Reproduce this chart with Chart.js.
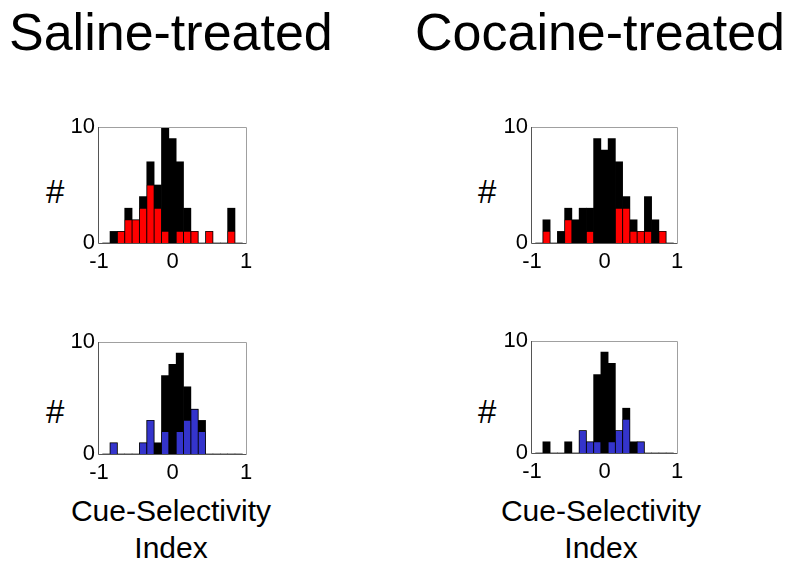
<!DOCTYPE html>
<html>
<head>
<meta charset="utf-8">
<script src="https://cdn.jsdelivr.net/npm/chart.js@4.4.0/dist/chart.umd.min.js"></script>
<style>
  body { margin: 0; background: #fff; }
  #wrap { position: relative; width: 800px; height: 570px; overflow: hidden; background: #fff;
          font-family: "Liberation Sans", Arial, sans-serif; color: #000; }
  .txt { position: absolute; white-space: nowrap; line-height: 1; }
  .title { font-size: 52px; }
  .hash { font-size: 33px; }
  .xlab { font-size: 30px; width: 300px; text-align: center; line-height: 37px; }
  canvas { position: absolute; }
</style>
</head>
<body>
<div id="wrap">
  <div class="txt title" style="left:9px; top:6px;">Saline-treated</div>
  <div class="txt title" style="left:415px; top:6px;">Cocaine-treated</div>

  <div class="txt hash" style="left:46px; top:175px;">#</div>
  <div class="txt hash" style="left:478px; top:175px;">#</div>
  <div class="txt hash" style="left:46px; top:395px;">#</div>
  <div class="txt hash" style="left:478px; top:395px;">#</div>

  <div class="txt xlab" style="left:21px; top:492px;">Cue-Selectivity<br>Index</div>
  <div class="txt xlab" style="left:451px; top:492px;">Cue-Selectivity<br>Index</div>

  <canvas id="salineTop"></canvas>
  <canvas id="cocaineTop"></canvas>
  <canvas id="salineBottom"></canvas>
  <canvas id="cocaineBottom"></canvas>
</div>

<script>
// histogram bin centres (cue-selectivity index)
var bins = [-0.9, -0.8, -0.7, -0.6, -0.5, -0.4, -0.3, -0.2, -0.1, 0,
            0.1, 0.2, 0.3, 0.4, 0.5, 0.6, 0.7, 0.8, 0.9];
var xTicks = [-1, 0, 1];
var yTicks = [0, 10];

// counts per bin
var salineTopAll     = [0, 1, 1, 3, 2, 4, 7, 5, 10, 9, 7, 3, 1, 0, 1, 0, 0, 3, 0];
var salineTopRed     = [0, 0, 1, 2, 2, 3, 5, 3, 1, 0, 1, 1, 1, 0, 1, 0, 0, 1, 0];
var cocaineTopAll    = [0, 2, 0, 1, 3, 2, 3, 3, 9, 8, 9, 7, 4, 2, 1, 4, 2, 1, 0];
var cocaineTopRed    = [0, 1, 0, 0, 2, 0, 0, 1, 0, 0, 0, 3, 3, 1, 1, 1, 0, 1, 0];
var salineBottomAll  = [0, 1, 0, 0, 0, 1, 3, 1, 7, 8, 9, 6, 4, 3, 0, 0, 0, 0, 0];
var salineBottomBlue = [0, 1, 0, 0, 0, 1, 3, 0, 2, 0, 2, 3, 4, 2, 0, 0, 0, 0, 0];
var cocaineBottomAll = [0, 1, 0, 0, 1, 0, 2, 1, 7, 9, 8, 2, 4, 1, 1, 0, 0, 0, 0];
var cocaineBottomBlue= [0, 0, 0, 0, 0, 0, 2, 1, 1, 0, 1, 2, 3, 0, 1, 0, 0, 0, 0];

var RED = '#ff0000';
var BLUE = '#3434cc';

// box around the plot area, like matlab's axes box
var boxPlugin = {
    id: 'box',
    afterDraw: function (chart) {
        var a = chart.chartArea, ctx = chart.ctx;
        ctx.save();
        ctx.lineWidth = 1;
        ctx.strokeStyle = '#a0a0a0';
        ctx.beginPath();
        ctx.moveTo(a.left, a.top + 0.5);
        ctx.lineTo(a.right + 0.5, a.top + 0.5);
        ctx.lineTo(a.right + 0.5, a.bottom);
        ctx.stroke();
        ctx.strokeStyle = '#555';
        ctx.beginPath();
        ctx.moveTo(a.left - 0.5, a.top);
        ctx.lineTo(a.left - 0.5, a.bottom + 0.5);
        ctx.lineTo(a.right + 0.5, a.bottom + 0.5);
        ctx.stroke();
        ctx.restore();
    }
};

function toPoints(values) {
    return bins.map(function (b, i) { return {x: b, y: values[i]}; });
}

// left/top/width/height are the plot box in page pixels
function drawPanel(id, subset, all, colour, left, top, width, height) {
    var padL = 60, padT = 20, padR = 25, padB = 40;
    var canvas = document.getElementById(id);
    canvas.style.left = (left - padL) + 'px';
    canvas.style.top = (top - padT) + 'px';
    canvas.width = width + padL + padR;
    canvas.height = height + padT + padB;
    canvas.style.width = canvas.width + 'px';
    canvas.style.height = canvas.height + 'px';

    var tickFont = {family: '"Liberation Sans", Arial, sans-serif', size: 22};

    return new Chart(canvas, {
        type: 'bar',
        data: {
            datasets: [{
                label: 'subset',
                data: toPoints(subset),
                backgroundColor: colour,
                borderColor: 'rgba(0,0,0,0.55)',
                borderWidth: 0.8,
                borderSkipped: 'start',
                grouped: false,
                barPercentage: 1,
                categoryPercentage: 1
            }, {
                label: 'all',
                data: toPoints(all),
                backgroundColor: '#000',
                borderWidth: 0,
                grouped: false,
                barPercentage: 1,
                categoryPercentage: 1
            }]
        },
        options: {
            responsive: false,
            animation: false,
            events: [],
            layout: {padding: {left: 0, top: padT, right: padR, bottom: 0}},
            plugins: {legend: {display: false}, tooltip: {enabled: false}},
            scales: {
                x: {
                    type: 'linear',
                    min: -1, max: 1,
                    offset: false,
                    grid: {display: false, drawTicks: false},
                    border: {display: false},
                    afterBuildTicks: function (s) { s.ticks = xTicks.map(function (v) { return {value: v}; }); },
                    afterFit: function (s) { s.height = padB; },
                    ticks: {color: '#000', font: tickFont, padding: 6, maxRotation: 0, autoSkip: false}
                },
                y: {
                    min: 0, max: 10,
                    grid: {display: false, drawTicks: false},
                    border: {display: false},
                    afterBuildTicks: function (s) { s.ticks = yTicks.map(function (v) { return {value: v}; }); },
                    afterFit: function (s) { s.width = padL; },
                    ticks: {color: '#000', font: tickFont, padding: 4}
                }
            }
        },
        plugins: [boxPlugin]
    });
}

drawPanel('salineTop', salineTopRed, salineTopAll, RED, 99, 127, 147, 116);
drawPanel('cocaineTop', cocaineTopRed, cocaineTopAll, RED, 532, 127, 145, 116);
drawPanel('salineBottom', salineBottomBlue, salineBottomAll, BLUE, 99, 342, 147, 112);
drawPanel('cocaineBottom', cocaineBottomBlue, cocaineBottomAll, BLUE, 532, 341, 145, 112);
</script>
</body>
</html>
